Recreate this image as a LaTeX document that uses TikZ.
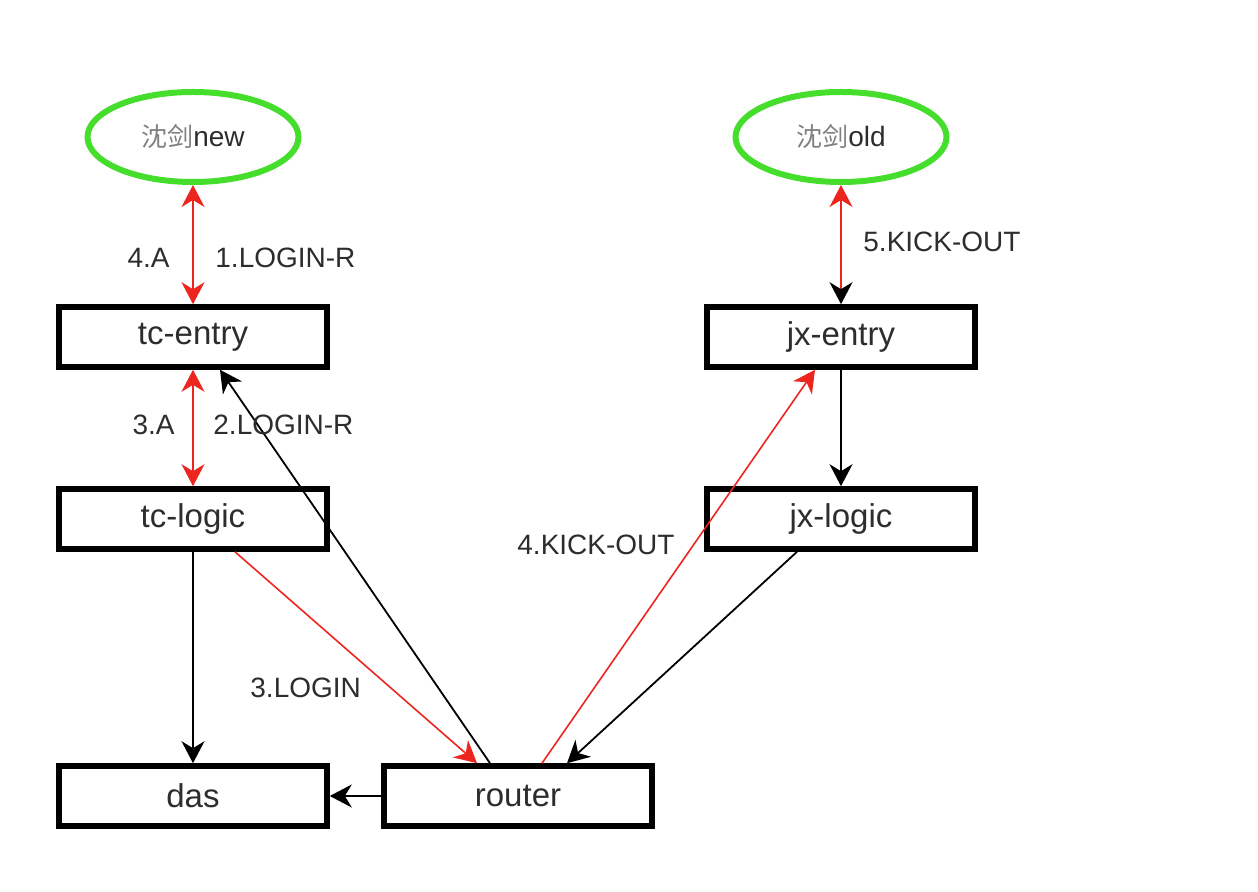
\documentclass[tikz,border=0pt]{standalone}
\usepackage{fontspec}
\setmainfont{Liberation Sans}
\newfontfamily\cjk{Noto Sans CJK SC}
\usetikzlibrary{arrows.meta,shapes.geometric}
\definecolor{ringgreen}{RGB}{70,222,45}
\definecolor{flowred}{RGB}{236,38,30}
\definecolor{txtgray}{RGB}{45,45,45}
\tikzset{
	bigtip/.tip={Stealth[length=11pt,width=11.5pt,inset=3.5pt]},
	redtip/.tip={Stealth[length=11pt,width=11.5pt,inset=3.5pt,color=flowred]},
	blacktip/.tip={Stealth[length=11pt,width=11.5pt,inset=3.5pt,color=black]}
}

\begin{document}
\begin{tikzpicture}[x=0.5pt, y=-0.5pt, >=bigtip,
		box/.style={draw, fill=white, line width=2.8pt, minimum width=134pt, minimum height=30pt, inner sep=0pt, font=\fontsize{16.5}{19}\selectfont, text=txtgray},
		user/.style={ellipse, draw=ringgreen, line width=3pt, minimum width=105.5pt, minimum height=45pt, inner sep=0pt, font=\fontsize{14}{17}\selectfont, text=txtgray},
		lbl/.style={font=\fontsize{14}{17}\selectfont, text=txtgray, inner sep=0pt},
		redline/.style={draw=flowred, line width=1pt},
		blackline/.style={draw=black, line width=0.9pt}]
		\useasboundingbox (0,0) rectangle (1258,892);
		
		% Users
		\node[user] (new) at (193,137) {{\cjk\fontsize{13}{15}\selectfont\color{gray}沈剑}new};
		\node[user] (old) at (841,137) {{\cjk\fontsize{13}{15}\selectfont\color{gray}沈剑}old};
		
		% Servers
		\foreach \nm/\x/\y/\txt in {tcentry/193/337/tc-entry, tclogic/193/519/tc-logic, das/193/796/das,
			router/518/796/router, jxentry/841/337/jx-entry, jxlogic/841/519/jx-logic} {
			\node[box] (\nm) at (\x,\y) {\txt};
		}
		
		% Login side
		\draw[redline, redtip-redtip] (new.south) -- (tcentry.north);
		\draw[redline, redtip-redtip] (tcentry.south) -- (tclogic.north);
		\draw[blackline, ->] (tclogic.south) -- (das.north);
		\draw[redline, -redtip, line width=0.8pt] ([xshift=21pt]tclogic.south) -- ([xshift=-20.5pt]router.north);
		\draw[blackline, ->] ([xshift=-14pt]router.north) -- ([xshift=13.5pt]tcentry.south);
		\draw[blackline, ->] (router.west) -- (das.east);
		
		% Kick-out side
		\draw[redline, -redtip, line width=0.8pt] ([xshift=12pt]router.north) -- ([xshift=-13pt]jxentry.south);
		\draw[blackline, ->] (jxentry.south) -- (jxlogic.north);
		\draw[blackline, ->] ([xshift=-22pt]jxlogic.south) -- ([xshift=24.5pt]router.north);
		\draw[redline, redtip-blacktip] (old.south) -- (jxentry.north);
		
		% Labels
		\node[lbl, anchor=east] (la4) at (170,258) {4.A};
		\node[lbl, anchor=west] (lr1) at (215,258) {1.LOGIN-R};
		\node[lbl, anchor=east] (la3) at (175,425) {3.A};
		\node[lbl, anchor=west] (lr2) at (213,425) {2.LOGIN-R};
		\node[lbl, anchor=west] (llogin) at (250,688) {3.LOGIN};
		\node[lbl, anchor=west] (lkick4) at (517,545) {4.KICK-OUT};
		\node[lbl, anchor=west] (lkick5) at (863,242) {5.KICK-OUT};
		
	\end{tikzpicture}
\end{document}
